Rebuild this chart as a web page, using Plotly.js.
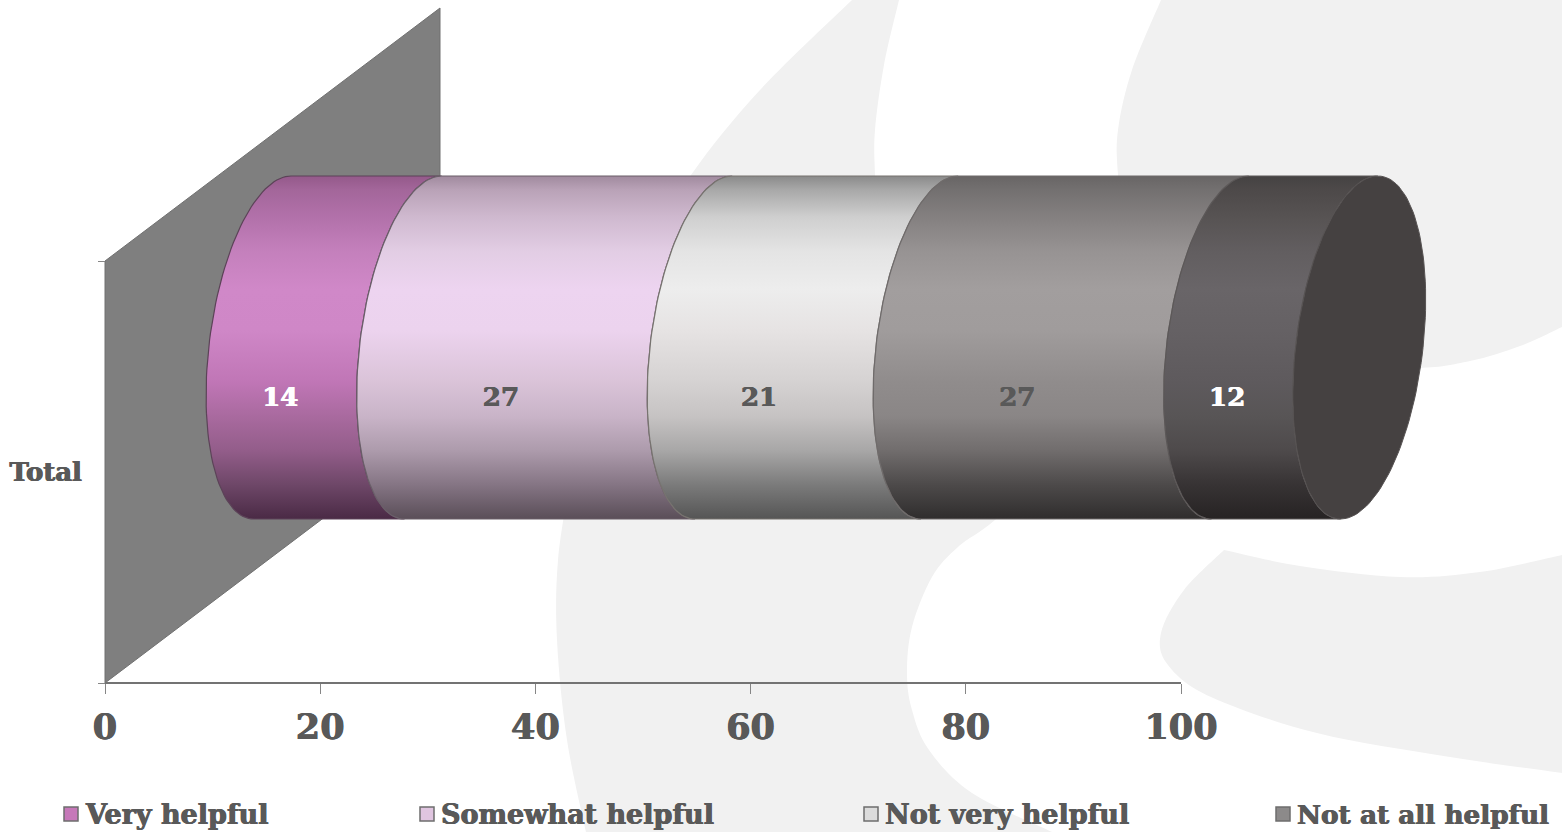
<!DOCTYPE html>
<html>
<head>
<meta charset="utf-8">
<script src="https://cdn.plot.ly/plotly-3.0.1.min.js"></script>
<style>html,body{margin:0;padding:0;background:#fff;overflow:hidden}#chart{width:1562px;height:832px}</style>
</head>
<body>
<div id="chart"></div>
<script>
// Survey result: one stacked 3D cylinder on a percentage axis
const category = ['Total'];
const legendNames = ['Very helpful', 'Somewhat helpful', 'Not very helpful', 'Not at all helpful'];
const values = [14, 27, 21, 27, 12];
const xTicks = [0, 20, 40, 60, 80, 100];

const labelColors = ['#ffffff', '#595959', '#595959', '#595959', '#ffffff'];
const swatchColors = ['#c678b9', '#e0c5e0', '#dcdcdc', '#8c8a8a'];
const edgeColors = ['#5c4358', '#6a5f69', '#77736f', '#6f6b6b', '#5c5858'];
const legendFontSizes = [27, 27, 27, 26.3];

// Shading down the cylinder, listed from its top edge to its bottom edge
const shadeStops = [0, 0.04, 0.12, 0.22, 0.33, 0.45, 0.6, 0.7, 0.8, 0.9, 1];
const shades = [
  ['#94598a', '#a3669a', '#b271aa', '#c480bc', '#d088c8', '#cf87c7', '#c076b6', '#a96a9f', '#935d8a', '#6e4768', '#4a2a45'],
  ['#a08a9e', '#b9a2b7', '#cfb9cf', '#e2cde4', '#edd4f0', '#ecd3ee', '#dac3d8', '#c9b4c8', '#ad9bac', '#857584', '#5a4e58'],
  ['#8a8a8a', '#a8a8a8', '#cfcfcf', '#e4e4e4', '#ededed', '#e6e3e3', '#d5d2d2', '#c6c3c3', '#a8a7a7', '#7b7b7b', '#555555'],
  ['#686565', '#737070', '#848080', '#979393', '#a29e9e', '#a09c9c', '#908c8c', '#8a8686', '#716d6d', '#4d4a4a', '#2f2d2d'],
  ['#454242', '#4d4949', '#575353', '#625e60', '#696568', '#656164', '#5e5a5d', '#585556', '#4e4a4b', '#373334', '#262323']
];
const capColor = '#454141';

// Page geometry: the axes span the page, with 0..100 and the wall placed by these pixel anchors
const W = 1562, H = 832;
const plotLeft = 105, plotRight = 1181, plotTop = 261, plotBottom = 683;
const pxPerX = (plotRight - plotLeft) / 100;
const pxPerY = plotBottom - plotTop;

// Projection of the cylinder's circular section into axis units
const depthX = 335 / pxPerX, depthY = 253 / pxPerY;
const axisStartX = 167.5 / pxPerX;
const centerY = (plotBottom - 347.5) / pxPerY;
const radiusY = 171.5 / pxPerY;
const radiusX = 63.8 / pxPerX;
const skewX = 18.6 / pxPerX;

// Slightly thickens the bold serif used for the chart's text
const heavy = c => `0.5px 0 0 ${c}, -0.5px 0 0 ${c}`;

function ring(value, fromDeg, toDeg, steps) {
  const xs = [], ys = [];
  for (let i = 0; i <= steps; i++) {
    const t = (fromDeg + (toDeg - fromDeg) * i / steps) * Math.PI / 180;
    xs.push(axisStartX + value + radiusX * Math.cos(t) + skewX * Math.sin(t));
    ys.push(centerY + radiusY * Math.sin(t));
  }
  return [xs, ys];
}

const traces = [];

// Back wall of the 3D plot
traces.push({
  type: 'scatter', mode: 'lines', hoverinfo: 'skip', showlegend: false,
  x: [0, depthX, depthX, 0, 0], y: [0, depthY, 1 + depthY, 1, 0],
  fill: 'toself', fillcolor: '#7f7f7f', line: { color: '#707070', width: 1 }
});

// Axis line, limited to the 0..100 span
traces.push({
  type: 'scatter', mode: 'lines', hoverinfo: 'skip', showlegend: false,
  x: [xTicks[0], xTicks[xTicks.length - 1]], y: [0, 0],
  line: { color: '#737373', width: 2 }
});

// One cylinder section per value
let running = 0;
const starts = [];
values.forEach((v, i) => {
  starts.push(running);
  const left = ring(running, 90, 270, 72);
  const right = ring(running + v, 270, 90, 72);
  traces.push({
    type: 'scatter', mode: 'lines', hoverinfo: 'skip', showlegend: false,
    x: left[0].concat(right[0], [left[0][0]]),
    y: left[1].concat(right[1], [left[1][0]]),
    line: { color: edgeColors[i], width: 1.2 },
    fill: 'toself',
    fillgradient: {
      type: 'vertical',
      start: centerY + radiusY,
      stop: centerY - radiusY,
      colorscale: shadeStops.map((s, k) => [s, shades[i][k]])
    }
  });
  running += v;
});

// Flat end of the cylinder
const cap = ring(running, 0, 360, 144);
traces.push({
  type: 'scatter', mode: 'lines', hoverinfo: 'skip', showlegend: false,
  x: cap[0], y: cap[1], fill: 'toself', fillcolor: capColor,
  line: { color: '#575353', width: 1 }
});

// Value labels sit on the near side of each section
const labelY = (plotBottom - 399) / pxPerY;
values.forEach((v, i) => {
  traces.push({
    type: 'scatter', mode: 'text', hoverinfo: 'skip', showlegend: false,
    x: [axisStartX - 67.5 / pxPerX + starts[i] + v / 2],
    y: [labelY],
    text: [String(v)],
    textposition: 'middle center',
    textfont: { family: 'DejaVu Serif', weight: 'bold', size: 26, color: labelColors[i], shadow: heavy(labelColors[i]) }
  });
});

// Legend row across the foot of the page
const legendX = [71, 427, 871, 1283].map(px => (px - plotLeft) / pxPerX);
const legendY = (plotBottom - 814) / pxPerY;
traces.push({
  type: 'scatter', mode: 'markers', hoverinfo: 'skip', showlegend: false,
  x: legendX, y: legendNames.map(() => legendY),
  marker: { symbol: 'square', size: 14, color: swatchColors, line: { color: '#6e6e6e', width: 1.5 } }
});

const legendAnnotations = legendNames.map((name, i) => ({
  xref: 'x', yref: 'y', x: legendX[i] + 12 / pxPerX, y: legendY,
  text: name, showarrow: false, xanchor: 'left', yanchor: 'middle',
  font: { family: 'DejaVu Serif', weight: 'bold', size: legendFontSizes[i], color: '#595959', shadow: heavy('#595959') }
}));

// Pale background artwork, given as page pixels and smoothed into cubic paths
function smoothPath(points) {
  const fx = x => x / W, fy = y => 1 - y / H;
  let d = `M${fx(points[0][0])} ${fy(points[0][1])}`;
  for (let i = 0; i < points.length - 1; i++) {
    const p0 = points[Math.max(i - 1, 0)], p1 = points[i], p2 = points[i + 1], p3 = points[Math.min(i + 2, points.length - 1)];
    const c1 = [p1[0] + (p2[0] - p0[0]) / 6, p1[1] + (p2[1] - p0[1]) / 6];
    const c2 = [p2[0] - (p3[0] - p1[0]) / 6, p2[1] - (p3[1] - p1[1]) / 6];
    d += `C${fx(c1[0])} ${fy(c1[1])} ${fx(c2[0])} ${fy(c2[1])} ${fx(p2[0])} ${fy(p2[1])}`;
  }
  return d;
}
function artwork(edges) {
  const d = edges.map((pts, i) => {
    const part = smoothPath(pts);
    return i === 0 ? part : 'L' + part.slice(1);
  }).join('') + 'Z';
  return { type: 'path', xref: 'paper', yref: 'paper', layer: 'below', path: d, fillcolor: '#f1f1f1', line: { width: 0 } };
}
const shapes = [
  artwork([
    [[899, 0], [884, 65], [875, 130], [875, 175], [878, 240]],
    [[1060, 460], [995, 520], [958, 547], [932, 577], [912, 627], [907, 673], [912, 710], [929, 750], [972, 793], [1052, 832]],
    [[586, 832], [567, 740], [557, 640], [558, 560], [570, 480]],
    [[640, 260], [691, 175], [760, 90], [852, 0]]
  ]),
  artwork([
    [[1161, 0], [1132, 70], [1118, 130], [1118, 175], [1125, 240]],
    [[1300, 362], [1413, 368], [1470, 361], [1520, 346], [1562, 327]],
    [[1562, 0]]
  ]),
  artwork([
    [[1224, 550], [1184, 590], [1161, 633], [1168, 665], [1211, 697], [1317, 733], [1450, 757], [1562, 773]],
    [[1562, 555], [1480, 572], [1400, 577], [1300, 566], [1224, 550]]
  ])
];

const layout = {
  width: W, height: H,
  margin: { l: 0, r: 0, t: 0, b: 0, pad: 0 },
  paper_bgcolor: '#ffffff', plot_bgcolor: 'rgba(0,0,0,0)',
  showlegend: false, hovermode: false,
  shapes: shapes,
  annotations: legendAnnotations,
  xaxis: {
    domain: [0, 1],
    range: [-plotLeft / pxPerX, (W - plotLeft) / pxPerX],
    anchor: 'free', position: (H - plotBottom) / H,
    tickmode: 'array', tickvals: xTicks, ticktext: xTicks.map(String),
    showgrid: false, zeroline: false, showline: false,
    ticks: 'outside', ticklen: 10, tickwidth: 1, tickcolor: '#868686',
    ticklabelstandoff: 3,
    tickfont: { family: 'DejaVu Serif', weight: 'bold', size: 35, color: '#595959', shadow: heavy('#595959') }
  },
  yaxis: {
    domain: [0, 1],
    range: [(plotBottom - H) / pxPerY, plotBottom / pxPerY],
    anchor: 'free', position: plotLeft / W,
    tickmode: 'array', tickvals: [0.5], ticktext: category,
    showgrid: false, zeroline: false, showline: false, ticks: '',
    ticklabelstandoff: 23,
    tickfont: { family: 'DejaVu Serif', weight: 'bold', size: 26, color: '#595959', shadow: heavy('#595959') },
    minor: { tickmode: 'array', tickvals: [0, 1], ticks: 'outside', ticklen: 7, tickwidth: 1, tickcolor: '#868686', showgrid: false }
  }
};

Plotly.newPlot('chart', traces, layout, { displayModeBar: false, staticPlot: true });
</script>
</body>
</html>
